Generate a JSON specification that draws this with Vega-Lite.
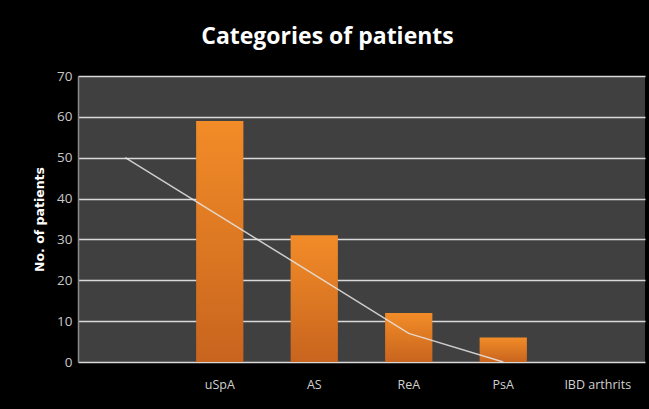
{
  "$schema": "https://vega.github.io/schema/vega-lite/v6.json",
  "width": 567,
  "height": 286,
  "autosize": {"type": "none"},
  "padding": {"left": 78, "top": 76, "right": 4, "bottom": 47},
  "background": "#000000",
  "title": {
    "text": "Categories of patients",
    "color": "#ffffff",
    "font": "Open Sans",
    "fontSize": 23,
    "fontWeight": "bold",
    "anchor": "middle",
    "dx": -34,
    "offset": 20
  },
  "data": {
    "values": [
      {"category": " ", "patients": 0, "trend": 50},
      {"category": "uSpA", "patients": 59, "trend": 35.7},
      {"category": "AS", "patients": 31, "trend": 21.4},
      {"category": "ReA", "patients": 12, "trend": 7},
      {"category": "PsA", "patients": 6, "trend": 0},
      {"category": "IBD arthrits", "patients": 0, "trend": null}
    ]
  },
  "encoding": {
    "x": {
      "field": "category",
      "type": "nominal",
      "sort": null,
      "scale": {"paddingInner": 0.5, "paddingOuter": 0.25},
      "axis": {
        "title": null,
        "labelAngle": 0,
        "labelColor": "#d0d0d0",
        "labelFont": "Open Sans",
        "labelFontSize": 12.5,
        "labelPadding": 16,
        "ticks": false,
        "domain": false
      }
    }
  },
  "layer": [
    {
      "mark": {
        "type": "bar",
        "color": {
          "gradient": "linear",
          "x1": 0, "y1": 0, "x2": 0, "y2": 1,
          "stops": [
            {"offset": 0, "color": "#f28c28"},
            {"offset": 1, "color": "#c8641e"}
          ]
        }
      },
      "encoding": {
        "y": {
          "field": "patients",
          "type": "quantitative",
          "scale": {"domain": [0, 70]},
          "axis": {
            "title": "No. of patients",
            "titleColor": "#ffffff",
            "titleFont": "DejaVu Sans",
            "titleFontSize": 12.5,
            "titleFontWeight": "bold",
            "titlePadding": 10,
            "values": [0, 10, 20, 30, 40, 50, 60, 70],
            "labelColor": "#c8c8c8",
            "labelFont": "Open Sans",
            "labelFontSize": 13.5,
            "labelPadding": 6,
            "ticks": false,
            "domain": true,
            "domainColor": "#8a8a8a",
            "domainWidth": 1.5,
            "grid": true,
            "gridColor": "#d9d9d9",
            "gridWidth": 1.5
          }
        }
      }
    },
    {
      "mark": {"type": "line", "color": "#e6e6e6", "strokeWidth": 1.5, "opacity": 0.85},
      "encoding": {
        "y": {"field": "trend", "type": "quantitative"}
      }
    }
  ],
  "config": {
    "view": {"stroke": null, "fill": "#404040"}
  }
}
